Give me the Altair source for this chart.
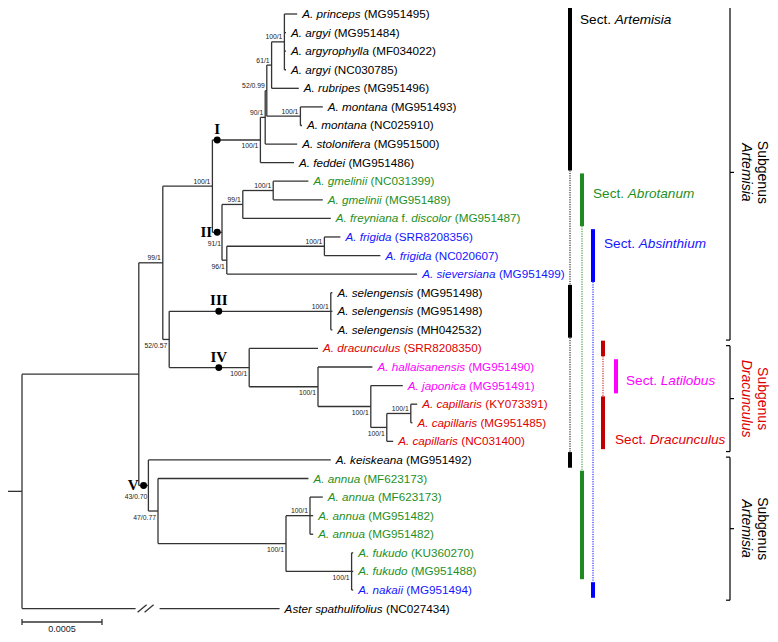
import altair as alt
import pandas as pd

# ---------------- data ----------------
leaf_species = [
    "A. princeps", "A. argyi", "A. argyrophylla", "A. argyi", "A. rubripes",
    "A. montana", "A. montana", "A. stolonifera", "A. feddei",
    "A. gmelinii", "A. gmelinii", "A. freyniana f. discolor",
    "A. frigida", "A. frigida", "A. sieversiana",
    "A. selengensis", "A. selengensis", "A. selengensis",
    "A. dracunculus", "A. hallaisanensis", "A. japonica",
    "A. capillaris", "A. capillaris", "A. capillaris",
    "A. keiskeana", "A. annua", "A. annua", "A. annua", "A. annua",
    "A. fukudo", "A. fukudo", "A. nakaii", "Aster spathulifolius",
]
leaf_accession = [
    "MG951495", "MG951484", "MF034022", "NC030785", "MG951496",
    "MG951493", "NC025910", "MG951500", "MG951486",
    "NC031399", "MG951489", "MG951487",
    "SRR8208356", "NC020607", "MG951499",
    "MG951498", "MG951498", "MH042532",
    "SRR8208350", "MG951490", "MG951491",
    "KY073391", "MG951485", "NC031400",
    "MG951492", "MF623173", "MF623173", "MG951482", "MG951482",
    "KU360270", "MG951488", "MG951494", "NC027434",
]
leaf_group = (["black"] * 9 + ["green"] * 3 + ["blue"] * 3 + ["black"] * 3 +
              ["red"] + ["magenta"] * 2 + ["red"] * 3 + ["black"] +
              ["green"] * 6 + ["blue"] + ["black"])
# tip depths (substitutions / site, as drawn)
leaf_depth = [
    0.00172, 0.00165, 0.00165, 0.00165, 0.00173,
    0.00188, 0.00175, 0.00172, 0.00170,
    0.00179, 0.00188, 0.00193,
    0.00199, 0.00224, 0.00247,
    0.00194, 0.00194, 0.00194,
    0.00185, 0.00219, 0.00238,
    0.00247, 0.00244, 0.00232,
    0.00193, 0.00179, 0.00188, 0.00182, 0.00182,
    0.00207, 0.00207, 0.00207, 0.00161,
]
aster_break = (0.00071, 0.00086)   # broken long branch of the outgroup
scale_bar_length = 0.0005


def N(depth, support=None, side=None, kids=(), clade=None):
    return {"d": depth, "s": support, "side": side, "kids": list(kids), "clade": clade}


n_princ = N(0.00164, "100/1", "a", [0, 1, 2, 3])
n61 = N(0.00156, "61/1", "a", [n_princ, 4])
n_mont = N(0.00174, "100/1", "a", [5, 6])
n52a = N(0.00153, "52/0.99", "a", [n61, n_mont])
n90 = N(0.00152, "90/1", "a", [n52a, 7])
n_I = N(0.00149, "100/1", "b", [n90, 8], clade=("I", 0.00122, "above"))
n_gmel = N(0.00157, "100/1", "a", [9, 10])
n99b = N(0.00138, "99/1", "a", [n_gmel, 11])
n_frig = N(0.00189, "100/1", "a", [12, 13])
n96 = N(0.00128, "96/1", "b", [n_frig, 14])
n_II = N(0.00125, "91/1", "b2", [n99b, n96], clade=("II", 0.00122, "left"))
n_I_II = N(0.00119, "100/1", "a", [n_I, n_II])
n_sel = N(0.00193, "100/1", "a", [15, 16, 17], clade=("III", 0.00123, "above"))
n_cap2 = N(0.00243, "100/1", "a", [21, 22])
n_cap = N(0.00228, "100/1", "b", [n_cap2, 23])
n_jap = N(0.00218, "100/1", "b", [20, n_cap])
n_hal = N(0.00185, "100/1", "b", [19, n_jap])
n_IV = N(0.00142, "100/1", "b", [18, n_hal], clade=("IV", 0.00123, "above"))
n52b = N(0.00092, "52/0.57", "b", [n_sel, n_IV])
n99 = N(0.00088, "99/1", "a", [n_I_II, n52b])
n_annua = N(0.00180, "100/1", "a", [26, 27, 28])
n_fuk = N(0.00206, "100/1", "b", [29, 30, 31])
n100 = N(0.00165, "100/1", "b", [n_annua, n_fuk])
n47 = N(0.00085, "47/0.77", "b", [25, n100])
n_V = N(0.00079, "43/0.70", "b2", [24, n47], clade=("V", 0.00076, "left"))
n_in = N(0.00073, None, None, [n99, n_V])
root = N(0.0, None, None, [n_in, 32])

sections = [
    ("Artemisia", "black", [(0, 8), (15, 17), (24, 24)]),
    ("Abrotanum", "green", [(9, 11), (25, 30)]),
    ("Absinthium", "blue", [(12, 14), (31, 31)]),
    ("Dracunculus", "red", [(18, 18), (21, 23)]),
    ("Latilobus", "magenta", [(19, 20)]),
]
section_label_row = {"Artemisia": 0.3, "Abrotanum": 9.68, "Absinthium": 12.36,
                     "Latilobus": 19.76, "Dracunculus": 22.92}
subgenera = [("Artemisia", "black", 0, 17), ("Dracunculus", "red", 18, 23),
             ("Artemisia", "black", 24, 31)]

# ---------------- style / layout ----------------
FONT = "Liberation Sans"
W, H = 762, 626
PX = scale_bar_length / 80.0           # depth per pixel
XDOM = [-14 * PX, 748 * PX]
YDOM = [-0.3229, 33.369]
TEXT_COL = {"black": "#000000", "green": "#1f8f1f", "blue": "#1616ff",
            "red": "#e00000", "magenta": "#ff00ff"}
BAR_COL = {"black": "#000000", "green": "#1f8a1f", "blue": "#0000ff",
           "red": "#c00000", "magenta": "#ff00ff"}
bar_px = {"Artemisia": 562, "Abrotanum": 574, "Absinthium": 585,
          "Dracunculus": 595, "Latilobus": 608}
label_px = {"Artemisia": 572, "Abrotanum": 585, "Absinthium": 596,
            "Latilobus": 618, "Dracunculus": 607}
BRACKET_PX = 722
LEAF_FS = 11.7
SECT_FS = 13.6


def px2d(cx):
    return (cx - 14) * PX


ARIAL = {" ": 278, "(": 333, ")": 333, ".": 278, "/": 278}
for c in "0123456789":
    ARIAL[c] = 556
ARIAL.update(dict(zip("ABCDEFGHIJKLMNOPQRSTUVWXYZ",
                      [667, 667, 722, 722, 667, 611, 778, 722, 278, 500, 667, 556, 833,
                       722, 778, 667, 778, 722, 667, 611, 722, 667, 944, 667, 667, 611])))
ARIAL.update(dict(zip("abcdefghijklmnopqrstuvwxyz",
                      [556, 556, 500, 556, 556, 278, 556, 556, 222, 222, 500, 222, 833,
                       556, 556, 556, 556, 333, 500, 278, 556, 500, 722, 500, 500, 500])))


def tw(s, size):
    return sum(ARIAL.get(c, 556) for c in s) * size / 1000.0


# ---------------- build geometry from the tree ----------------
segs, sup, dots, nums = [], [], [], []


def walk(node, parent_d):
    if isinstance(node, int):
        d = leaf_depth[node]
        if node == 32:
            segs.append(dict(x=parent_d, x2=aster_break[0], y=node, y2=node))
            segs.append(dict(x=aster_break[1], x2=d, y=node, y2=node))
        else:
            segs.append(dict(x=parent_d, x2=d, y=node, y2=node))
        return node
    ys = [walk(k, node["d"]) for k in node["kids"]]
    y = (ys[0] + ys[-1]) / 2.0
    segs.append(dict(x=node["d"], x2=node["d"], y=ys[0], y2=ys[-1]))
    segs.append(dict(x=parent_d, x2=node["d"], y=y, y2=y))
    if node["s"]:
        sup.append(dict(x=node["d"], y=y, t=node["s"], side=node["side"]))
    if node["clade"]:
        name, dd, pos = node["clade"]
        dots.append(dict(x=dd, y=y))
        nums.append(dict(x=dd, y=y, t=name, pos=pos))
    return y


walk(root, -14 * PX)
seg_df = pd.DataFrame(segs)
sup_df = pd.DataFrame(sup)
dot_df = pd.DataFrame(dots)
num_df = pd.DataFrame(nums)

# leaf labels: italic names + upright accessions
lab = []
for i, (sp, acc) in enumerate(zip(leaf_species, leaf_accession)):
    if " f. " in sp:
        a, b = sp.split(" f. ")
        parts = [(a, True), ("f.", False), (b, True)]
    else:
        parts = [(sp, True)]
    parts.append(("(" + acc + ")", False))
    off = 5.0
    for txt, it in parts:
        lab.append(dict(x=leaf_depth[i] + off * PX, y=i, t=txt, it=it,
                        c=TEXT_COL[leaf_group[i]]))
        off += tw(txt + " ", LEAF_FS)
lab_df = pd.DataFrame(lab)

# section bars and dotted connectors
bars, dots_conn, slab = [], [], []
for name, col, ranges in sections:
    xd = px2d(bar_px[name])
    for k, (a, b) in enumerate(ranges):
        bars.append(dict(x=xd, y=a - 0.42, y2=b + 0.42, c=BAR_COL[col]))
        if k > 0:
            dots_conn.append(dict(x=xd, y=ranges[k - 1][1] + 0.42, y2=a - 0.42, c=BAR_COL[col]))
    lx = px2d(label_px[name])
    slab.append(dict(x=lx, y=section_label_row[name], t="Sect.", it=False, c=TEXT_COL[col]))
    slab.append(dict(x=lx + tw("Sect. ", SECT_FS) * PX, y=section_label_row[name],
                     t=name, it=True, c=TEXT_COL[col]))
bar_df = pd.DataFrame(bars)
conn_df = pd.DataFrame(dots_conn)
slab_df = pd.DataFrame(slab)

# subgenus brackets
br, sg = [], []
bx = px2d(BRACKET_PX)
for name, col, a, b in subgenera:
    y0, y1 = a - 0.15, b + 0.55
    if a == 0:
        y0 = a - 0.5
    mid = (y0 + y1) / 2
    br.append(dict(x=bx, x2=bx, y=y0, y2=y1))
    br.append(dict(x=bx - 4 * PX, x2=bx, y=y0, y2=y0))
    br.append(dict(x=bx - 4 * PX, x2=bx, y=y1, y2=y1))
    br.append(dict(x=bx, x2=bx + 4 * PX, y=mid, y2=mid))
    sg.append(dict(x=px2d(754), y=mid, t="Subgenus", it=False, c=TEXT_COL[col]))
    sg.append(dict(x=px2d(738), y=mid, t=name, it=True, c=TEXT_COL[col]))
br_df = pd.DataFrame(br)
sg_df = pd.DataFrame(sg)

# outgroup break slashes
ya = 32
slash_df = pd.DataFrame([
    dict(x=aster_break[0] + 2 * PX, x2=aster_break[0] + 11 * PX, y=ya + 0.2, y2=ya - 0.2),
    dict(x=aster_break[0] + 9 * PX, x2=aster_break[0] + 18 * PX, y=ya + 0.2, y2=ya - 0.2),
])

sb_df = pd.DataFrame([dict(x=0.0, x2=scale_bar_length, mid=scale_bar_length / 2, t="0.0005")])

# ---------------- encodings ----------------
def X(f="x"):
    return alt.X(f"{f}:Q", scale=alt.Scale(domain=XDOM, nice=False, zero=False), axis=None)


def Y(f="y"):
    return alt.Y(f"{f}:Q", scale=alt.Scale(domain=YDOM, nice=False, zero=False, reverse=True),
                 axis=None)


TREE_COL = "#333333"
SUP_COL = "#1a1a1a"

tree = alt.Chart(seg_df).mark_rule(color=TREE_COL, strokeWidth=1.3).encode(
    x=X(), x2="x2:Q", y=Y(), y2="y2:Q")
slashes = alt.Chart(slash_df).mark_rule(color=TREE_COL, strokeWidth=1.3).encode(
    x=X(), x2="x2:Q", y=Y(), y2="y2:Q")

leaf_it = alt.Chart(lab_df).transform_filter("datum.it").mark_text(
    align="left", baseline="middle", font=FONT, fontSize=LEAF_FS, fontStyle="italic").encode(
    x=X(), y=Y(), text="t:N", color=alt.Color("c:N", scale=None))
leaf_rg = alt.Chart(lab_df).transform_filter("!datum.it").mark_text(
    align="left", baseline="middle", font=FONT, fontSize=LEAF_FS).encode(
    x=X(), y=Y(), text="t:N", color=alt.Color("c:N", scale=None))

sup_a = alt.Chart(sup_df).transform_filter("datum.side == 'a'").mark_text(
    align="right", baseline="bottom", dx=-2, dy=-1.5, font=FONT, fontSize=6.8,
    color=SUP_COL).encode(x=X(), y=Y(), text="t:N")
sup_b = alt.Chart(sup_df).transform_filter("datum.side == 'b'").mark_text(
    align="right", baseline="top", dx=-2, dy=3.5, font=FONT, fontSize=6.8,
    color=SUP_COL).encode(x=X(), y=Y(), text="t:N")
sup_b2 = alt.Chart(sup_df).transform_filter("datum.side == 'b2'").mark_text(
    align="right", baseline="top", dx=-1, dy=8.5, font=FONT, fontSize=6.8,
    color=SUP_COL).encode(x=X(), y=Y(), text="t:N")

dot_l = alt.Chart(dot_df).mark_circle(size=48, color="#000000", opacity=1).encode(x=X(), y=Y())
num_above = alt.Chart(num_df).transform_filter("datum.pos == 'above'").mark_text(
    align="center", baseline="bottom", dy=-3, font="Liberation Serif", fontWeight="bold",
    fontSize=15, color="#000000").encode(x=X(), y=Y(), text="t:N")
num_left = alt.Chart(num_df).transform_filter("datum.pos == 'left'").mark_text(
    align="right", baseline="middle", dx=-5, font="Liberation Serif", fontWeight="bold",
    fontSize=15, color="#000000").encode(x=X(), y=Y(), text="t:N")

sb_line = alt.Chart(sb_df).mark_rule(color=TREE_COL, strokeWidth=1.3).encode(
    x=X(), x2="x2:Q", y=alt.value(614))
sb_t1 = alt.Chart(sb_df).mark_rule(color=TREE_COL, strokeWidth=1.3).encode(
    x=X("x"), y=alt.value(611), y2=alt.value(617))
sb_t2 = alt.Chart(sb_df).mark_rule(color=TREE_COL, strokeWidth=1.3).encode(
    x=X("x2"), y=alt.value(611), y2=alt.value(617))
sb_lab = alt.Chart(sb_df).mark_text(align="center", baseline="bottom", font=FONT,
                                    fontSize=9, color="#222222").encode(
    x=X("mid"), y=alt.value(626), text="t:N")

bar_l = alt.Chart(bar_df).mark_rule(strokeWidth=4, strokeCap="butt").encode(
    x=X(), y=Y(), y2="y2:Q", color=alt.Color("c:N", scale=None))
conn_l = alt.Chart(conn_df).mark_rule(strokeWidth=1, strokeDash=[1.2, 1.2]).encode(
    x=X(), y=Y(), y2="y2:Q", color=alt.Color("c:N", scale=None))

slab_rg = alt.Chart(slab_df).transform_filter("!datum.it").mark_text(
    align="left", baseline="middle", font=FONT, fontSize=SECT_FS).encode(
    x=X(), y=Y(), text="t:N", color=alt.Color("c:N", scale=None))
slab_it = alt.Chart(slab_df).transform_filter("datum.it").mark_text(
    align="left", baseline="middle", font=FONT, fontSize=SECT_FS, fontStyle="italic").encode(
    x=X(), y=Y(), text="t:N", color=alt.Color("c:N", scale=None))

br_l = alt.Chart(br_df).mark_rule(color="#000000", strokeWidth=1.2).encode(
    x=X(), x2="x2:Q", y=Y(), y2="y2:Q")
sg_rg = alt.Chart(sg_df).transform_filter("!datum.it").mark_text(
    align="center", baseline="middle", angle=90, font=FONT, fontSize=14).encode(
    x=X(), y=Y(), text="t:N", color=alt.Color("c:N", scale=None))
sg_it = alt.Chart(sg_df).transform_filter("datum.it").mark_text(
    align="center", baseline="middle", angle=90, font=FONT, fontSize=14,
    fontStyle="italic").encode(
    x=X(), y=Y(), text="t:N", color=alt.Color("c:N", scale=None))

chart = alt.layer(
    tree, slashes, conn_l, bar_l, br_l,
    leaf_it, leaf_rg, sup_a, sup_b, sup_b2, dot_l, num_above, num_left,
    sb_line, sb_t1, sb_t2, sb_lab, slab_rg, slab_it, sg_rg, sg_it,
).properties(
    width=W, height=H, padding=0, autosize=alt.AutoSizeParams(type="none"),
    background="#ffffff",
).configure_view(stroke=None)

chart.save("out.html", embed_options={"renderer": "svg", "actions": False})
